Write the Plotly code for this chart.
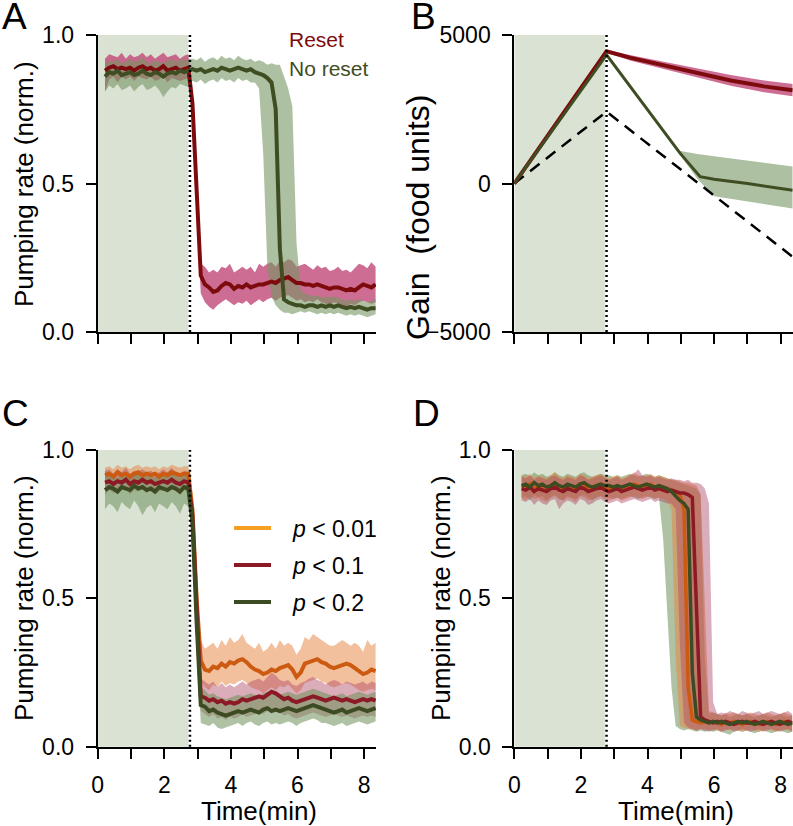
import plotly.graph_objects as go

FONT = "Liberation Sans"
W, H = 793, 826

# ---------------- sampling grid (minutes) ----------------
T = [0.22, 0.345, 0.47, 0.595, 0.72, 0.845, 0.97, 1.095, 1.22, 1.345, 1.47,
     1.595, 1.72, 1.845, 1.97, 2.095, 2.22, 2.345, 2.47, 2.595, 2.72, 2.845,
     2.97, 3.095, 3.22, 3.345, 3.47, 3.595, 3.72, 3.845, 3.97, 4.095, 4.22,
     4.345, 4.47, 4.595, 4.72, 4.845, 4.97, 5.095, 5.22, 5.345, 5.47, 5.595,
     5.72, 5.845, 5.97, 6.095, 6.22, 6.345, 6.47, 6.595, 6.72, 6.845, 6.97,
     7.095, 7.22, 7.345, 7.47, 7.595, 7.72, 7.845, 7.97, 8.095, 8.22, 8.345]

STIM_END = 2.77     # dotted line
SHADE_END = 2.72    # shaded food period

# ---------------- panel A ----------------
A_RESET = [0.88, 0.89, 0.895, 0.885, 0.89, 0.885, 0.89, 0.88, 0.89, 0.895, 0.885,
           0.89, 0.88, 0.885, 0.895, 0.88, 0.885, 0.89, 0.88, 0.885, 0.89, 0.77,
           0.45, 0.19, 0.16, 0.15, 0.135, 0.14, 0.155, 0.165, 0.16, 0.145, 0.155,
           0.15, 0.16, 0.15, 0.155, 0.16, 0.16, 0.165, 0.17, 0.165, 0.175, 0.18,
           0.185, 0.175, 0.165, 0.165, 0.16, 0.16, 0.155, 0.16, 0.155, 0.15, 0.145,
           0.15, 0.15, 0.145, 0.14, 0.145, 0.14, 0.15, 0.16, 0.155, 0.15, 0.16]
A_RESET_LO = [0.81, 0.85, 0.86, 0.84, 0.86, 0.85, 0.86, 0.845, 0.86, 0.855, 0.85,
              0.86, 0.845, 0.85, 0.86, 0.84, 0.855, 0.85, 0.845, 0.85, 0.855, 0.73,
              0.4, 0.13, 0.1, 0.085, 0.075, 0.09, 0.1, 0.11, 0.1, 0.09, 0.1,
              0.095, 0.105, 0.09, 0.1, 0.11, 0.1, 0.11, 0.115, 0.105, 0.115, 0.12,
              0.125, 0.115, 0.105, 0.11, 0.1, 0.105, 0.1, 0.11, 0.1, 0.095, 0.09,
              0.1, 0.095, 0.09, 0.085, 0.095, 0.09, 0.1, 0.105, 0.1, 0.095, 0.1]
A_RESET_HI = [0.92, 0.935, 0.93, 0.925, 0.94, 0.92, 0.935, 0.925, 0.93, 0.94, 0.925,
              0.935, 0.92, 0.93, 0.94, 0.925, 0.93, 0.935, 0.92, 0.93, 0.935, 0.82,
              0.5, 0.23, 0.22, 0.2, 0.21, 0.2, 0.22, 0.215, 0.23, 0.2, 0.21,
              0.22, 0.21, 0.22, 0.2, 0.23, 0.22, 0.23, 0.235, 0.22, 0.24, 0.235,
              0.245, 0.24, 0.22, 0.225, 0.23, 0.22, 0.21, 0.225, 0.215, 0.22, 0.205,
              0.21, 0.22, 0.205, 0.21, 0.2, 0.215, 0.23, 0.225, 0.215, 0.235, 0.22]
A_NORESET = [0.86, 0.875, 0.87, 0.88, 0.865, 0.87, 0.875, 0.865, 0.87, 0.88, 0.87,
             0.865, 0.875, 0.87, 0.86, 0.87, 0.875, 0.87, 0.88, 0.875, 0.88, 0.885,
             0.88, 0.885, 0.875, 0.88, 0.885, 0.88, 0.89, 0.885, 0.88, 0.885, 0.89,
             0.885, 0.88, 0.885, 0.875, 0.87, 0.865, 0.855, 0.84, 0.75, 0.28, 0.11,
             0.1, 0.095, 0.09, 0.09, 0.085, 0.09, 0.09, 0.085, 0.09, 0.085, 0.09,
             0.085, 0.09, 0.085, 0.08, 0.085, 0.08, 0.085, 0.08, 0.075, 0.08, 0.08]
A_NORESET_LO = [0.81, 0.83, 0.82, 0.835, 0.815, 0.82, 0.83, 0.81, 0.825, 0.835, 0.815,
                0.82, 0.83, 0.815, 0.79, 0.81, 0.825, 0.82, 0.835, 0.83, 0.825, 0.845,
                0.84, 0.85, 0.835, 0.845, 0.85, 0.84, 0.855, 0.845, 0.85, 0.84, 0.855,
                0.845, 0.85, 0.84, 0.84, 0.82, 0.6, 0.22, 0.12, 0.09, 0.075, 0.065,
                0.065, 0.06, 0.065, 0.07, 0.065, 0.07, 0.065, 0.06, 0.065, 0.06, 0.065,
                0.06, 0.065, 0.06, 0.055, 0.06, 0.055, 0.06, 0.055, 0.05, 0.055, 0.06]
A_NORESET_HI = [0.9, 0.915, 0.91, 0.92, 0.905, 0.91, 0.92, 0.91, 0.915, 0.925, 0.91,
                0.905, 0.915, 0.91, 0.905, 0.915, 0.92, 0.91, 0.92, 0.915, 0.92, 0.92,
                0.915, 0.925, 0.91, 0.92, 0.925, 0.915, 0.93, 0.92, 0.925, 0.915, 0.93,
                0.92, 0.915, 0.92, 0.91, 0.915, 0.91, 0.9, 0.905, 0.9, 0.9, 0.86,
                0.82, 0.76, 0.3, 0.14, 0.13, 0.125, 0.12, 0.125, 0.115, 0.12, 0.115,
                0.12, 0.115, 0.11, 0.105, 0.11, 0.105, 0.11, 0.105, 0.1, 0.105, 0.11]

# ---------------- panel B (gain, food units) ----------------
B_T_RESET = [0, 2.77, 3.5, 4.5, 5.5, 6.5, 7.5, 8.36]
B_RESET = [0, 4450, 4230, 3980, 3720, 3470, 3270, 3140]
B_RESET_HI = [0, 4500, 4320, 4100, 3870, 3650, 3470, 3350]
B_RESET_LO = [0, 4400, 4130, 3860, 3570, 3290, 3070, 2940]
B_T_NORESET = [0, 2.77, 4.97, 5.58, 6.0, 7.0, 8.36]
B_NORESET = [0, 4330, 1030, 230, 140, 0, -225]
B_T_NORESET_BAND = [0, 2.77, 4.95, 5.5, 6.0, 7.0, 8.36]
B_NORESET_HI = [0, 4370, 1100, 990, 920, 780, 570]
B_NORESET_LO = [0, 4290, 1000, 150, -430, -610, -840]
B_T_DASH = [0, 2.77, 8.36]
B_DASH = [0, 2420, -2470]

# ---------------- panel C ----------------
C_P001 = [0.915, 0.92, 0.91, 0.925, 0.915, 0.92, 0.91, 0.92, 0.925, 0.915, 0.92,
          0.915, 0.92, 0.91, 0.92, 0.915, 0.925, 0.92, 0.915, 0.92, 0.92, 0.8,
          0.5, 0.29, 0.26, 0.255, 0.27, 0.265, 0.28, 0.27, 0.285, 0.28, 0.29,
          0.295, 0.285, 0.27, 0.26, 0.255, 0.245, 0.25, 0.26, 0.255, 0.265, 0.27,
          0.275, 0.26, 0.235, 0.25, 0.28, 0.285, 0.29, 0.295, 0.285, 0.28, 0.27,
          0.265, 0.27, 0.275, 0.28, 0.275, 0.265, 0.255, 0.245, 0.25, 0.26, 0.255]
C_P001_LO = [0.89, 0.895, 0.885, 0.9, 0.89, 0.895, 0.885, 0.89, 0.9, 0.89, 0.895,
             0.89, 0.895, 0.885, 0.895, 0.89, 0.9, 0.895, 0.89, 0.895, 0.89, 0.75,
             0.45, 0.22, 0.2, 0.19, 0.21, 0.2, 0.22, 0.205, 0.215, 0.21, 0.22,
             0.225, 0.215, 0.2, 0.195, 0.19, 0.18, 0.19, 0.2, 0.19, 0.205, 0.2,
             0.21, 0.195, 0.18, 0.19, 0.215, 0.22, 0.225, 0.23, 0.22, 0.215, 0.205,
             0.2, 0.205, 0.21, 0.215, 0.21, 0.2, 0.19, 0.185, 0.19, 0.195, 0.19]
C_P001_HI = [0.94, 0.945, 0.935, 0.95, 0.94, 0.945, 0.935, 0.945, 0.95, 0.94, 0.945,
             0.94, 0.945, 0.935, 0.945, 0.94, 0.95, 0.945, 0.94, 0.945, 0.945, 0.85,
             0.56, 0.36, 0.33, 0.34, 0.35, 0.33, 0.36, 0.34, 0.37, 0.35, 0.36,
             0.38, 0.35, 0.34, 0.33, 0.35, 0.32, 0.33, 0.35, 0.33, 0.36, 0.34,
             0.35, 0.34, 0.31, 0.33, 0.37, 0.36, 0.38, 0.37, 0.36, 0.35, 0.34,
             0.34, 0.35, 0.36, 0.35, 0.34, 0.35, 0.34, 0.32, 0.36, 0.34, 0.35]
C_P01 = [0.89, 0.895, 0.885, 0.895, 0.89, 0.9, 0.885, 0.895, 0.89, 0.9, 0.89,
         0.895, 0.885, 0.89, 0.895, 0.89, 0.9, 0.89, 0.885, 0.895, 0.89, 0.78,
         0.45, 0.17, 0.165, 0.155, 0.16, 0.15, 0.155, 0.145, 0.15, 0.145, 0.15,
         0.16, 0.155, 0.16, 0.165, 0.17, 0.165, 0.175, 0.185, 0.18, 0.17, 0.16,
         0.165, 0.155, 0.15, 0.155, 0.16, 0.165, 0.17, 0.165, 0.16, 0.155, 0.16,
         0.165, 0.16, 0.155, 0.16, 0.155, 0.15, 0.155, 0.16, 0.155, 0.16, 0.155]
C_P01_LO = [0.85, 0.865, 0.855, 0.86, 0.865, 0.87, 0.85, 0.865, 0.86, 0.87, 0.855,
            0.865, 0.85, 0.86, 0.865, 0.855, 0.87, 0.86, 0.85, 0.865, 0.86, 0.72,
            0.4, 0.12, 0.11, 0.1, 0.11, 0.095, 0.1, 0.09, 0.1, 0.095, 0.1,
            0.11, 0.1, 0.105, 0.11, 0.115, 0.11, 0.12, 0.13, 0.12, 0.115, 0.105,
            0.11, 0.1, 0.095, 0.1, 0.105, 0.11, 0.115, 0.11, 0.105, 0.1, 0.105,
            0.11, 0.105, 0.1, 0.105, 0.1, 0.095, 0.1, 0.105, 0.1, 0.105, 0.1]
C_P01_HI = [0.93, 0.935, 0.92, 0.935, 0.925, 0.94, 0.92, 0.93, 0.925, 0.935, 0.925,
            0.93, 0.92, 0.925, 0.935, 0.925, 0.94, 0.925, 0.92, 0.93, 0.925, 0.83,
            0.5, 0.23, 0.22, 0.21, 0.22, 0.2, 0.215, 0.2, 0.21, 0.2, 0.21,
            0.22, 0.21, 0.22, 0.225, 0.23, 0.22, 0.235, 0.25, 0.24, 0.225, 0.22,
            0.225, 0.21, 0.205, 0.215, 0.22, 0.23, 0.235, 0.225, 0.22, 0.21, 0.22,
            0.225, 0.22, 0.21, 0.22, 0.215, 0.21, 0.215, 0.22, 0.21, 0.22, 0.215]
C_P02 = [0.865, 0.875, 0.87, 0.86, 0.875, 0.87, 0.865, 0.88, 0.87, 0.875, 0.865,
         0.87, 0.86, 0.875, 0.87, 0.865, 0.875, 0.87, 0.86, 0.875, 0.87, 0.76,
         0.42, 0.14, 0.135, 0.12, 0.125, 0.115, 0.11, 0.105, 0.11, 0.115, 0.12,
         0.115, 0.12, 0.125, 0.12, 0.115, 0.125, 0.13, 0.12, 0.125, 0.12, 0.125,
         0.13, 0.125, 0.12, 0.125, 0.13, 0.135, 0.14, 0.135, 0.13, 0.125, 0.12,
         0.115, 0.12, 0.125, 0.115, 0.12, 0.125, 0.13, 0.125, 0.12, 0.125, 0.13]
C_P02_LO = [0.8, 0.82, 0.81, 0.79, 0.825, 0.81, 0.8, 0.83, 0.81, 0.78, 0.805,
            0.815, 0.79, 0.82, 0.81, 0.8, 0.825, 0.81, 0.785, 0.82, 0.81, 0.7,
            0.37, 0.08, 0.075, 0.07, 0.08, 0.065, 0.06, 0.065, 0.07, 0.075, 0.08,
            0.07, 0.08, 0.085, 0.075, 0.07, 0.08, 0.085, 0.075, 0.08, 0.075, 0.08,
            0.085, 0.08, 0.07, 0.08, 0.085, 0.09, 0.095, 0.09, 0.08, 0.08, 0.075,
            0.07, 0.075, 0.08, 0.07, 0.075, 0.08, 0.085, 0.08, 0.075, 0.08, 0.085]
C_P02_HI = [0.91, 0.92, 0.915, 0.905, 0.92, 0.915, 0.91, 0.925, 0.915, 0.92, 0.91,
            0.915, 0.905, 0.92, 0.915, 0.91, 0.92, 0.915, 0.905, 0.92, 0.915, 0.81,
            0.47, 0.2, 0.19, 0.175, 0.18, 0.17, 0.165, 0.16, 0.165, 0.17, 0.175,
            0.17, 0.175, 0.18, 0.175, 0.17, 0.18, 0.185, 0.175, 0.18, 0.175, 0.18,
            0.185, 0.18, 0.175, 0.18, 0.185, 0.19, 0.195, 0.19, 0.185, 0.18, 0.175,
            0.17, 0.175, 0.18, 0.17, 0.175, 0.18, 0.185, 0.18, 0.175, 0.18, 0.185]

# ---------------- panel D ----------------
D_P001 = [0.88, 0.875, 0.885, 0.87, 0.88, 0.875, 0.87, 0.88, 0.885, 0.875, 0.87,
          0.88, 0.875, 0.87, 0.885, 0.88, 0.87, 0.875, 0.88, 0.885, 0.875, 0.87,
          0.875, 0.88, 0.87, 0.875, 0.88, 0.885, 0.88, 0.875, 0.88, 0.885, 0.875,
          0.88, 0.875, 0.87, 0.865, 0.86, 0.85, 0.8, 0.2, 0.09, 0.085, 0.08,
          0.085, 0.08, 0.085, 0.08, 0.075, 0.085, 0.08, 0.085, 0.08, 0.075, 0.08,
          0.085, 0.08, 0.075, 0.08, 0.085, 0.08, 0.075, 0.08, 0.085, 0.08, 0.075]
D_P001_LO = [0.84, 0.83, 0.845, 0.835, 0.84, 0.83, 0.825, 0.84, 0.845, 0.835, 0.83,
             0.84, 0.835, 0.825, 0.845, 0.84, 0.83, 0.835, 0.84, 0.845, 0.835, 0.83,
             0.835, 0.84, 0.83, 0.835, 0.84, 0.845, 0.84, 0.835, 0.84, 0.845, 0.835,
             0.84, 0.835, 0.83, 0.8, 0.3, 0.07, 0.065, 0.06, 0.06, 0.055, 0.06,
             0.06, 0.055, 0.06, 0.055, 0.05, 0.06, 0.055, 0.06, 0.055, 0.05, 0.055,
             0.06, 0.055, 0.05, 0.055, 0.06, 0.055, 0.05, 0.055, 0.06, 0.055, 0.05]
D_P001_HI = [0.915, 0.91, 0.92, 0.905, 0.915, 0.91, 0.905, 0.915, 0.925, 0.91, 0.905,
             0.915, 0.91, 0.905, 0.92, 0.915, 0.905, 0.91, 0.915, 0.92, 0.91, 0.905,
             0.91, 0.915, 0.905, 0.91, 0.915, 0.925, 0.915, 0.91, 0.915, 0.92, 0.91,
             0.915, 0.91, 0.905, 0.9, 0.9, 0.895, 0.89, 0.89, 0.885, 0.88, 0.85,
             0.5, 0.12, 0.115, 0.11, 0.105, 0.115, 0.11, 0.115, 0.11, 0.105, 0.11,
             0.115, 0.11, 0.105, 0.11, 0.115, 0.11, 0.105, 0.11, 0.115, 0.11, 0.105]
D_P01 = [0.87, 0.865, 0.875, 0.86, 0.87, 0.865, 0.86, 0.87, 0.875, 0.865, 0.86,
         0.87, 0.865, 0.86, 0.875, 0.87, 0.86, 0.865, 0.87, 0.875, 0.865, 0.86,
         0.865, 0.87, 0.86, 0.865, 0.87, 0.875, 0.87, 0.865, 0.87, 0.875, 0.865,
         0.87, 0.865, 0.86, 0.865, 0.86, 0.855, 0.855, 0.85, 0.84, 0.45, 0.1,
         0.09, 0.085, 0.08, 0.085, 0.08, 0.085, 0.08, 0.075, 0.08, 0.085, 0.08,
         0.08, 0.085, 0.08, 0.075, 0.08, 0.085, 0.08, 0.075, 0.08, 0.085, 0.08]
D_P01_LO = [0.83, 0.825, 0.835, 0.815, 0.83, 0.82, 0.815, 0.83, 0.835, 0.8, 0.82,
            0.83, 0.825, 0.815, 0.835, 0.83, 0.815, 0.82, 0.83, 0.835, 0.825, 0.82,
            0.825, 0.83, 0.82, 0.825, 0.83, 0.835, 0.83, 0.825, 0.83, 0.835, 0.825,
            0.83, 0.825, 0.82, 0.82, 0.8, 0.35, 0.08, 0.065, 0.06, 0.055, 0.06,
            0.055, 0.05, 0.055, 0.06, 0.05, 0.055, 0.06, 0.05, 0.055, 0.06, 0.055,
            0.05, 0.055, 0.06, 0.05, 0.055, 0.06, 0.055, 0.05, 0.055, 0.06, 0.05]
D_P01_HI = [0.91, 0.905, 0.915, 0.9, 0.91, 0.905, 0.9, 0.91, 0.915, 0.905, 0.9,
            0.91, 0.905, 0.9, 0.915, 0.91, 0.9, 0.905, 0.91, 0.915, 0.905, 0.9,
            0.905, 0.91, 0.9, 0.905, 0.915, 0.92, 0.935, 0.915, 0.91, 0.915, 0.905,
            0.91, 0.905, 0.9, 0.905, 0.9, 0.9, 0.895, 0.9, 0.89, 0.89, 0.885,
            0.87, 0.82, 0.15, 0.11, 0.115, 0.11, 0.12, 0.115, 0.11, 0.12, 0.115,
            0.11, 0.115, 0.12, 0.11, 0.115, 0.12, 0.115, 0.11, 0.115, 0.12, 0.11]
D_P02 = [0.88, 0.885, 0.875, 0.89, 0.88, 0.885, 0.875, 0.88, 0.89, 0.88, 0.875,
         0.885, 0.88, 0.875, 0.885, 0.89, 0.88, 0.875, 0.88, 0.885, 0.88, 0.88,
         0.875, 0.88, 0.875, 0.88, 0.885, 0.88, 0.875, 0.88, 0.885, 0.88, 0.875,
         0.88, 0.875, 0.87, 0.86, 0.845, 0.83, 0.82, 0.8, 0.25, 0.1, 0.09,
         0.085, 0.08, 0.085, 0.08, 0.085, 0.08, 0.075, 0.08, 0.085, 0.08, 0.085,
         0.08, 0.075, 0.08, 0.085, 0.08, 0.075, 0.08, 0.085, 0.08, 0.075, 0.08]
D_P02_LO = [0.84, 0.845, 0.83, 0.85, 0.84, 0.845, 0.83, 0.84, 0.85, 0.835, 0.83,
            0.845, 0.84, 0.835, 0.845, 0.85, 0.84, 0.83, 0.84, 0.845, 0.84, 0.84,
            0.835, 0.84, 0.835, 0.84, 0.845, 0.84, 0.835, 0.84, 0.845, 0.84, 0.835,
            0.84, 0.7, 0.45, 0.2, 0.07, 0.06, 0.055, 0.06, 0.055, 0.05, 0.055,
            0.05, 0.055, 0.05, 0.055, 0.05, 0.045, 0.04, 0.05, 0.055, 0.05, 0.055,
            0.05, 0.045, 0.05, 0.055, 0.05, 0.045, 0.05, 0.055, 0.05, 0.045, 0.05]
D_P02_HI = [0.915, 0.92, 0.91, 0.925, 0.915, 0.92, 0.91, 0.915, 0.925, 0.915, 0.91,
            0.92, 0.915, 0.91, 0.92, 0.925, 0.915, 0.91, 0.915, 0.92, 0.915, 0.915,
            0.91, 0.915, 0.91, 0.915, 0.92, 0.915, 0.91, 0.915, 0.92, 0.915, 0.91,
            0.915, 0.91, 0.905, 0.9, 0.895, 0.89, 0.885, 0.88, 0.875, 0.87, 0.85,
            0.3, 0.11, 0.115, 0.11, 0.105, 0.11, 0.1, 0.105, 0.11, 0.105, 0.11,
            0.105, 0.1, 0.105, 0.11, 0.105, 0.1, 0.105, 0.11, 0.105, 0.1, 0.105]

for _name, _arr in list(globals().items()):
    if _name[:2] in ("A_", "C_", "D_") and isinstance(_arr, list):
        assert len(_arr) == len(T), (_name, len(_arr))

# ---------------- labels ----------------
X_TICKS = [0, 1, 2, 3, 4, 5, 6, 7, 8]
X_TICKTEXT = ["0", "", "2", "", "4", "", "6", "", "8"]
Y_TICKS = [0, 0.5, 1.0]
Y_TICKTEXT = ["0.0", "0.5", "1.0"]
G_TICKS = [-5000, 0, 5000]
G_TICKTEXT = ["\u22125000", "0", "5000"]
LEGEND_C = ["<i>p</i> &lt; 0.01", "<i>p</i> &lt; 0.1", "<i>p</i> &lt; 0.2"]

# ---------------- colours ----------------
SHADE = "#dae2d4"
RED_LINE = "#7d0b0d"
RED_BAND = "rgba(192,72,120,0.8)"
GRN_LINE = "#3f4d22"
GRN_BAND = "rgba(118,150,98,0.6)"
OR_LINE = "#cc5a10"
OR_BAND = "rgba(232,130,62,0.5)"
C_RED_LINE = "#8b1a24"
C_RED_BAND = "rgba(175,70,100,0.45)"
C_GRN_LINE = "#3c4b22"
C_GRN_BAND = "rgba(110,145,90,0.55)"
LEG_OR = "#f5a023"

fig = go.Figure()


def band(x, lo, hi, color, ax):
    fig.add_trace(go.Scatter(
        x=list(x) + list(x)[::-1], y=list(hi) + list(lo)[::-1],
        fill="toself", fillcolor=color, line=dict(width=0), mode="lines",
        hoverinfo="skip", showlegend=False, xaxis="x" + ax, yaxis="y" + ax))


def line(x, y, color, width, ax, dash=None):
    fig.add_trace(go.Scatter(
        x=x, y=y, mode="lines", line=dict(color=color, width=width, dash=dash),
        hoverinfo="skip", showlegend=False, xaxis="x" + ax, yaxis="y" + ax))


# A
band(T, A_RESET_LO, A_RESET_HI, RED_BAND, "")
band(T, A_NORESET_LO, A_NORESET_HI, GRN_BAND, "")
line(T, A_RESET, RED_LINE, 4, "")
line(T, A_NORESET, GRN_LINE, 4, "")

# B
band(B_T_RESET, B_RESET_LO, B_RESET_HI, RED_BAND, "2")
band(B_T_NORESET_BAND, B_NORESET_LO, B_NORESET_HI, GRN_BAND, "2")
line(B_T_DASH, B_DASH, "black", 2.5, "2", dash="12px,8px")
line(B_T_RESET, B_RESET, RED_LINE, 4, "2")
line(B_T_NORESET, B_NORESET, GRN_LINE, 3, "2")

# C
band(T, C_P001_LO, C_P001_HI, OR_BAND, "3")
band(T, C_P01_LO, C_P01_HI, C_RED_BAND, "3")
band(T, C_P02_LO, C_P02_HI, C_GRN_BAND, "3")
line(T, C_P001, OR_LINE, 4, "3")
line(T, C_P01, C_RED_LINE, 4, "3")
line(T, C_P02, C_GRN_LINE, 4, "3")

# D
band(T, D_P02_LO, D_P02_HI, C_GRN_BAND, "4")
band(T, D_P001_LO, D_P001_HI, OR_BAND, "4")
band(T, D_P01_LO, D_P01_HI, C_RED_BAND, "4")
line(T, D_P001, OR_LINE, 3.5, "4")
line(T, D_P01, C_RED_LINE, 3.5, "4")
line(T, D_P02, C_GRN_LINE, 3.5, "4")


def px(x):
    return x / W


def py(y):
    return 1 - y / H


tickfont = dict(family=FONT, size=23, color="black")
common = dict(showline=True, linecolor="black", linewidth=2, ticks="outside",
              ticklen=10, tickwidth=2, tickcolor="black", showgrid=False,
              zeroline=False, tickfont=tickfont, fixedrange=True,
              automargin=False, ticklabelstandoff=7)

XL = [px(97.7), px(376.1)]
XR = [px(514.3), px(792.7)]
YT = [py(332), py(35)]
YB = [py(746.7), py(450)]
XR_RANGE = [0, 8.36]

layout = dict(
    width=W, height=H, margin=dict(l=0, r=0, t=0, b=0, pad=0, autoexpand=False),
    paper_bgcolor="white", plot_bgcolor="white", showlegend=False,
    font=dict(family=FONT, color="black"),
    xaxis=dict(domain=XL, range=XR_RANGE, anchor="y", tickvals=X_TICKS,
               showticklabels=False, **common),
    yaxis=dict(domain=YT, range=[0, 1], anchor="x", tickvals=Y_TICKS,
               ticktext=Y_TICKTEXT, **common),
    xaxis2=dict(domain=XR, range=XR_RANGE, anchor="y2", tickvals=X_TICKS,
                showticklabels=False, **common),
    yaxis2=dict(domain=YT, range=[-5000, 5000], anchor="x2", tickvals=G_TICKS,
                ticktext=G_TICKTEXT, **common),
    xaxis3=dict(domain=XL, range=XR_RANGE, anchor="y3", tickvals=X_TICKS,
                ticktext=X_TICKTEXT, **common),
    yaxis3=dict(domain=YB, range=[0, 1], anchor="x3", tickvals=Y_TICKS,
                ticktext=Y_TICKTEXT, **common),
    xaxis4=dict(domain=XR, range=XR_RANGE, anchor="y4", tickvals=X_TICKS,
                ticktext=X_TICKTEXT, **common),
    yaxis4=dict(domain=YB, range=[0, 1], anchor="x4", tickvals=Y_TICKS,
                ticktext=Y_TICKTEXT, **common),
)
fig.update_layout(**layout)

shapes = []
for ax in ["", "2", "3", "4"]:
    shapes.append(dict(type="rect", xref="x" + ax, yref="y" + ax + " domain",
                       x0=0, x1=SHADE_END, y0=0, y1=1, fillcolor=SHADE,
                       line=dict(width=0), layer="below"))
    shapes.append(dict(type="line", xref="x" + ax, yref="y" + ax + " domain",
                       x0=STIM_END, x1=STIM_END, y0=0, y1=1,
                       line=dict(color="black", width=2.5, dash="2px,3px"),
                       layer="above"))

# legend lines for panel C
leg_cols = [LEG_OR, C_RED_LINE, C_GRN_LINE]
leg_y = [528, 565, 602]
for c, yy in zip(leg_cols, leg_y):
    shapes.append(dict(type="line", xref="paper", yref="paper",
                       x0=px(234), x1=px(271), y0=py(yy), y1=py(yy),
                       line=dict(color=c, width=4)))
fig.update_layout(shapes=shapes)

ann = []


def text(s, x, y, size, color="black", xanchor="center", yanchor="middle", angle=0):
    ann.append(dict(text=s, x=px(x), y=py(y), xref="paper", yref="paper",
                    showarrow=False, xanchor=xanchor, yanchor=yanchor,
                    textangle=angle, font=dict(family=FONT, size=size, color=color)))


# panel letters
text("A", 0, 17, 37, xanchor="left")
text("B", 409, 17, 37, xanchor="left")
text("C", 0, 413, 37, xanchor="left")
text("D", 411, 413, 37, xanchor="left")

# axis titles
text("Pumping rate (norm.)", 24, 184, 26, angle=-90)
text("Gain\u00a0\u00a0(food units)", 418, 218, 32, angle=-90)
text("Pumping rate (norm.)", 24, 598, 26, angle=-90)
text("Pumping rate (norm.)", 441, 598, 26, angle=-90)
text("Time(min)", 259, 811, 26)
text("Time(min)", 676, 811, 26)

# legend A
text("Reset", 287, 39, 21, color=RED_LINE, xanchor="left")
text("No reset", 287, 69, 21, color=GRN_LINE, xanchor="left")

# legend C
for s, yy in zip(LEGEND_C, leg_y):
    text(s, 290, yy + 1, 23, xanchor="left")

fig.update_layout(annotations=ann)
fig.write_html(
    "out.html",
    config={"displayModeBar": False, "staticPlot": True},
    post_script="document.body.style.margin='0px';document.body.style.overflow='hidden';",
)
